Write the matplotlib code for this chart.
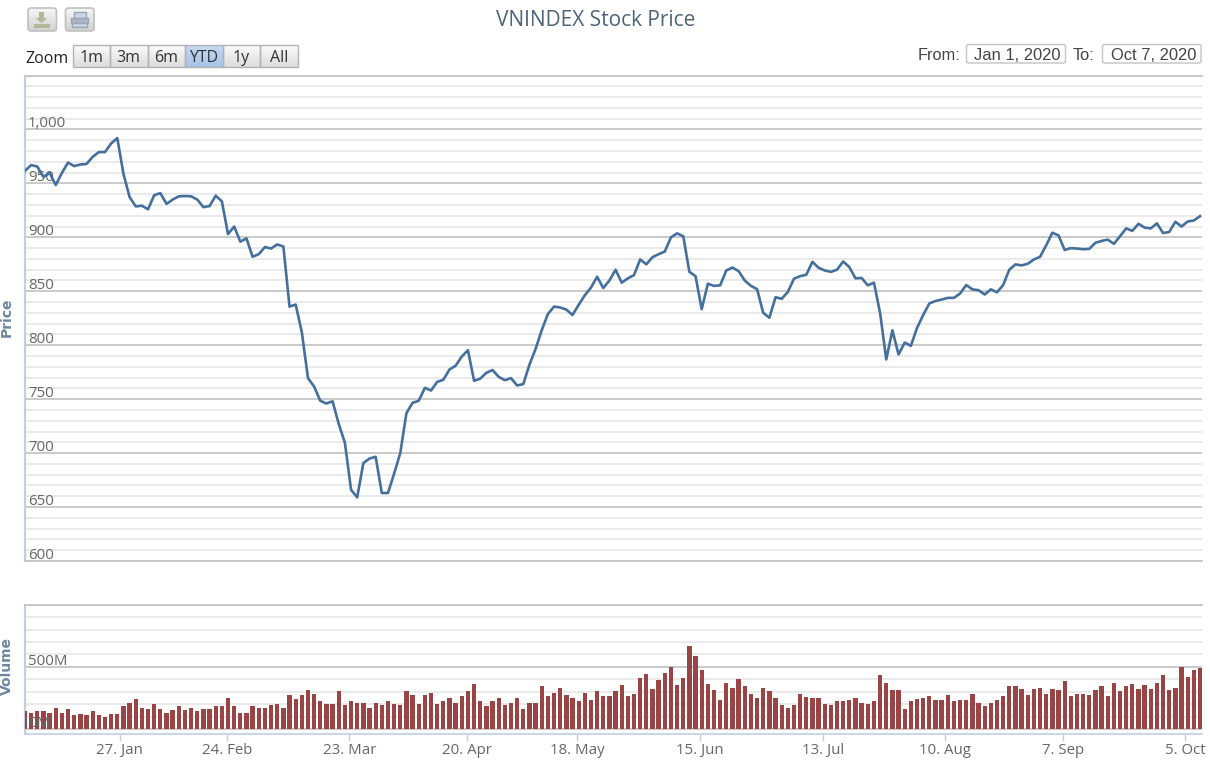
import numpy as np
import matplotlib
matplotlib.use('Agg')
import matplotlib.pyplot as plt
from matplotlib.patches import Rectangle, FancyBboxPatch, Polygon

title = 'VNINDEX Stock Price'
price = [961.6, 967, 965.6, 956, 959.7, 948.5, 959.7, 969.3, 966, 967.5,
         968, 974.6, 979, 979, 987, 992, 959, 937.4, 928.7, 929.3,
         926, 939, 941, 931, 935, 938, 938.3, 938, 935, 928,
         929, 938.6, 933.4, 903, 910, 896, 899, 882, 884.4, 891,
         889.6, 893.4, 891.5, 835.8, 837.7, 812, 769.5, 761.7, 748.5, 746,
         748, 727, 709.6, 666, 659, 690.8, 695, 696.6, 663, 663,
         681, 700, 737, 746.6, 748.5, 760.5, 758, 766, 768, 777.5,
         781, 789.5, 795.4, 767, 769, 774.4, 777, 770.7, 767.6, 769.5,
         762.7, 764, 782, 796.6, 814, 829, 835.8, 835, 833, 828,
         837.4, 846.3, 853.4, 863.5, 853, 860, 870, 858, 862, 865,
         879.5, 875, 881.6, 884.4, 886.8, 900, 903.7, 901, 868, 864,
         833.4, 857, 855, 855.5, 869.3, 872, 868.7, 860, 855, 852,
         830, 825.5, 844.5, 843, 849.4, 861.7, 864, 865.3, 877.3, 871.8,
         869.3, 868, 870, 877.6, 872.4, 862, 862.3, 855.5, 858, 829.8,
         786.8, 813.8, 791.4, 802.5, 799.4, 816, 828, 838.7, 841, 842.3,
         843.9, 843.9, 847.9, 855.8, 851.8, 851, 847, 851.8, 849, 855.8,
         870, 874.9, 874, 875.5, 879.5, 882, 892.6, 904.3, 901.8, 888.3,
         890, 889.6, 889, 889.3, 895, 896.6, 897.9, 894, 901, 908.3,
         906, 912.6, 909, 908.3, 912.9, 904, 905, 914.4, 910, 914.7,
         915.6, 919.6]

# volume in millions
volume = [142, 131, 142, 142, 131, 172, 131, 161, 110, 121,
          110, 142, 110, 99, 121, 121, 182, 212, 241, 172,
          161, 201, 161, 131, 150, 182, 150, 172, 142, 161,
          161, 182, 182, 252, 182, 131, 131, 182, 172, 172,
          190, 201, 172, 271, 241, 271, 311, 281, 222, 201,
          201, 303, 190, 222, 212, 212, 172, 212, 190, 222,
          201, 193, 303, 273, 201, 273, 292, 201, 222, 252,
          212, 263, 303, 362, 222, 182, 222, 252, 193, 212,
          252, 161, 212, 212, 343, 263, 292, 332, 273, 252,
          222, 292, 233, 303, 263, 263, 303, 351, 263, 281,
          413, 442, 322, 391, 453, 501, 351, 413, 665, 584,
          474, 362, 314, 233, 373, 332, 402, 343, 281, 252,
          332, 303, 252, 193, 172, 193, 281, 260, 252, 252,
          201, 193, 222, 222, 233, 252, 212, 201, 222, 431,
          373, 314, 314, 161, 222, 241, 252, 263, 233, 233,
          271, 222, 233, 233, 281, 212, 182, 212, 233, 263,
          343, 343, 322, 271, 322, 332, 281, 322, 314, 383,
          263, 281, 281, 271, 314, 343, 263, 373, 303, 343,
          362, 322, 351, 322, 373, 431, 314, 332, 501, 421,
          474, 493]

tick_labels = ['27. Jan', '24. Feb', '23. Mar', '20. Apr', '18. May',
               '15. Jun', '13. Jul', '10. Aug', '7. Sep', '5. Oct']
tick_index = [15.4, 32.8, 52.7, 71.8, 89.7, 109.7, 129.7, 149.5, 168.7, 188.6]
price_ticks = [600, 650, 700, 750, 800, 850, 900, 950, 1000]
volume_ticks = [0, 500]
zoom_labels = ['1m', '3m', '6m', 'YTD', '1y', 'All']

W, H = 1210, 764
main_font = 'Open Sans'
grid_major = '#c6c6c6'
grid_minor = '#e8e8e8'
axis_blue = '#c0d0e0'
label_color = '#666666'

plt.rcParams['font.family'] = main_font
fig = plt.figure(figsize=(W / 100, H / 100), dpi=100, facecolor='white')


def pixel_axes(left, top, right, bottom):
    return fig.add_axes([left / W, 1 - bottom / H, (right - left) / W, (bottom - top) / H])


x = np.arange(len(price))
# first point sits at 25px, last at 1200px, plot ends at 1202px
xlim = (0, (1202 - 25) / ((1200 - 25) / (len(price) - 1)))

# price panel
ax1 = pixel_axes(25, 75.5, 1202, 561)
ax1.set_xlim(xlim)
ax1.set_ylim(600, 1050)
ax1.set_yticks(np.arange(600, 1051, 10), minor=True)
ax1.set_yticks(np.arange(600, 1051, 50))
ax1.grid(which='minor', axis='y', color=grid_minor, lw=1.3)
ax1.grid(which='major', axis='y', color=grid_major, lw=1.3)
ax1.set_axisbelow(True)
ax1.plot(x, price, color='#456f9c', lw=1.9, zorder=5, solid_joinstyle='round')
ax1.tick_params(which='both', length=0, labelleft=False, labelbottom=False)
for v in price_ticks:
    ax1.annotate(f'{v:,}', (0, v), xytext=(2.2, -1.2), textcoords='offset points',
                 color=label_color, fontsize=10.8, va='bottom', ha='left', zorder=3)

# volume panel
ax2 = pixel_axes(25, 604.7, 1202, 734)
ax2.set_xlim(xlim)
ax2.set_ylim(-40, 1000)
ax2.set_yticks(np.arange(0, 1001, 100), minor=True)
ax2.set_yticks(np.arange(0, 1001, 500))
ax2.grid(which='minor', axis='y', color=grid_minor, lw=1.3)
ax2.grid(which='major', axis='y', color=grid_major, lw=1.3)
ax2.set_axisbelow(True)
ax2.bar(x, volume, width=0.7, color='#9a4545', zorder=4)
ax2.tick_params(axis='y', which='both', length=0, labelleft=False)
ax2.set_xticks(tick_index)
ax2.set_xticklabels(tick_labels, fontsize=10.8, color=label_color)
ax2.tick_params(axis='x', length=5, width=1, color=axis_blue, pad=1.5)
for v in volume_ticks:
    ax2.annotate(f'{v}M', (0, v), xytext=(2.2, -1.6), textcoords='offset points',
                 color=label_color, fontsize=10.8, va='bottom', ha='left', zorder=6)

for ax in (ax1, ax2):
    for side in ax.spines:
        ax.spines[side].set_visible(False)
    ax.spines['left'].set_visible(True)
    ax.spines['left'].set_color(axis_blue)
    ax.spines['left'].set_linewidth(1.6)
    ax.spines['top'].set_visible(True)
    ax.spines['top'].set_color(grid_major)
    ax.spines['top'].set_linewidth(1.3)
ax1.spines['bottom'].set_visible(True)
ax1.spines['bottom'].set_color(grid_major)
ax1.spines['bottom'].set_linewidth(1.3)
ax2.spines['bottom'].set_visible(True)
ax2.spines['bottom'].set_color(axis_blue)
ax2.spines['bottom'].set_linewidth(1.2)

# overlay in pixel coords for title, buttons and axis names
ui = fig.add_axes([0, 0, 1, 1], zorder=10)
ui.patch.set_alpha(0)
ui.axis('off')


def gradient_box(x0, y0, x1, y1, top, bottom):
    a = np.array(matplotlib.colors.to_rgb(top))
    b = np.array(matplotlib.colors.to_rgb(bottom))
    img = np.linspace(a, b, 24).reshape(24, 1, 3)
    ui.imshow(img, extent=(x0, x1, y1, y0), aspect='auto', interpolation='bilinear', zorder=1)


ui.text(596, 20, title, color='#4d6478', fontsize=15, ha='center', va='center')
ui.text(25, 59, 'Zoom', color='#222222', fontsize=11.5, ha='left', va='center')

# range buttons
edges = [73, 110, 147.5, 185, 223, 260, 298]
for i, lab in enumerate(zoom_labels):
    active = lab == 'YTD'
    gradient_box(edges[i], 45, edges[i + 1], 67,
                 '#c5daf3' if active else '#fbfbfb', '#a5c3e8' if active else '#dcdcdc')
    ui.add_patch(Rectangle((edges[i], 45), edges[i + 1] - edges[i], 22, fill=False,
                           ec='#b4b4b4', lw=1, zorder=2))
    ui.text((edges[i] + edges[i + 1]) / 2, 58, lab, color='#333333', fontsize=11.5,
            ha='center', va='center', zorder=3)

# export and print buttons
for x0 in (28, 65.5):
    gradient_box(x0, 8, x0 + 28.5, 31, '#f6f6f6', '#d2d2d2')
    ui.add_patch(FancyBboxPatch((x0, 8), 28.5, 23, boxstyle='round,pad=0,rounding_size=3',
                                fill=False, ec='#c0c0c0', lw=1.2, zorder=2))
ui.add_patch(Polygon([[39, 12], [44, 12], [44, 18], [47.5, 18], [41.5, 23], [35.5, 18], [39, 18]],
                     fc='#b2b994', ec='none', zorder=3))
ui.add_patch(Rectangle((34, 24), 16, 3.5, fc='#b2b994', ec='none', zorder=3))
ui.add_patch(Rectangle((73.5, 12), 12, 6, fc='#ccd5e0', ec='#9aa6b6', lw=1, zorder=3))
ui.add_patch(Rectangle((71, 18), 17, 4.5, fc='#aab6c6', ec='#9aa6b6', lw=1, zorder=3))
ui.add_patch(Rectangle((72, 22.5), 15, 4.5, fc='#ccd5e0', ec='#9aa6b6', lw=1, zorder=3))

# date range boxes
ui.text(918, 56, 'From:', family='Liberation Sans', color='#444444', fontsize=11.8, ha='left', va='center')
ui.text(1073, 56, 'To:', family='Liberation Sans', color='#444444', fontsize=11.8, ha='left', va='center')
for x0, x1, lab in [(966.5, 1065.5, 'Jan 1, 2020'), (1102.5, 1201, 'Oct 7, 2020')]:
    ui.add_patch(FancyBboxPatch((x0, 44.5), x1 - x0, 18.5, boxstyle='round,pad=0,rounding_size=2',
                                fc='white', ec='#c4c4c4', lw=1, zorder=2))
    ui.text(x1 - 5, 55.5, lab, family='Liberation Sans', color='#444444', fontsize=11.9,
            ha='right', va='center', zorder=3)

ui.text(7, 317, 'Price', rotation=90, color='#6d869f', family='DejaVu Sans', fontsize=10,
        fontweight='bold', ha='center', va='center')
ui.text(7, 666, 'Volume', rotation=90, color='#6d869f', family='DejaVu Sans', fontsize=10,
        fontweight='bold', ha='center', va='center')

ui.set_xlim(0, W)
ui.set_ylim(H, 0)

fig.savefig('out.png', dpi=100)
